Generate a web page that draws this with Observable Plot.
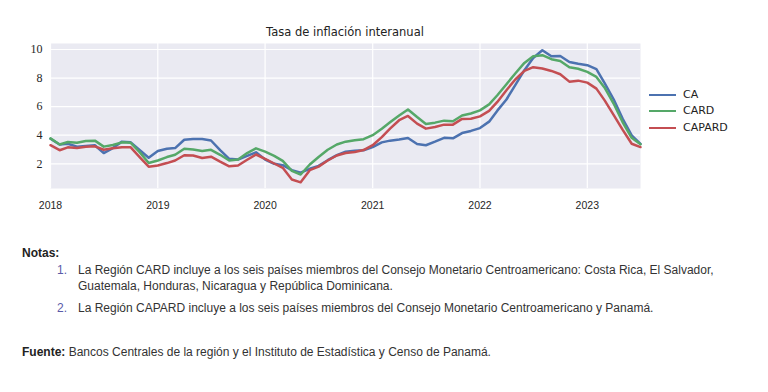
<!DOCTYPE html>
<html><head><meta charset="utf-8">
<script src="https://cdn.jsdelivr.net/npm/d3@7"></script>
<script src="https://cdn.jsdelivr.net/npm/@observablehq/plot@0.6"></script>
<style>
body{margin:0;background:#fff;}
#wrap{position:relative;width:768px;height:392px;overflow:hidden;font-family:"Liberation Sans",Arial,sans-serif;color:#333;}
#chart{position:absolute;left:0;top:0;}
.t{position:absolute;white-space:nowrap;line-height:14px;}
.title{left:50px;width:590px;top:25px;text-align:center;font-family:"DejaVu Sans",sans-serif;font-size:11.5px;color:#222;}
.leg{position:absolute;left:649px;font-family:"DejaVu Sans",sans-serif;font-size:11px;color:#222;line-height:14px;}
.leg span.sw{position:absolute;left:0;top:6px;width:27px;height:0;border-top:2.6px solid;}
.leg span.lb{position:absolute;left:34px;top:0;white-space:nowrap;}
.note{font-size:12px;color:#333;}
.num{font-size:12px;color:#5a5aa8;}
.head{font-size:12px;color:#222;font-weight:bold;}
</style>
</head><body>
<div id="wrap">
  <div id="chart"></div>
</div>
<script>
const titleText = "Tasa de inflación interanual";
const seriesNames = ["CA", "CARD", "CAPARD"];
const seriesColors = ["#4C72B0", "#55A868", "#C44E52"];
const startMonth = "2018-01-01";
const endMonth = "2023-07-01";
const yearTicks = [2018, 2019, 2020, 2021, 2022, 2023];
const yTicks = [2, 4, 6, 8, 10];

const caValues = [3.75,3.35,3.4,3.2,3.25,3.3,2.75,3.1,3.55,3.5,2.95,2.42,
  2.9,3.05,3.1,3.68,3.73,3.73,3.63,2.95,2.35,2.3,2.55,2.8,
  2.3,2.0,1.9,1.55,1.38,1.65,1.85,2.25,2.6,2.85,2.92,2.95,
  3.17,3.5,3.62,3.7,3.8,3.38,3.3,3.55,3.82,3.78,4.15,4.3,
  4.5,4.95,5.72,6.5,7.5,8.55,9.4,9.95,9.53,9.55,9.13,9.0,
  8.9,8.62,7.65,6.5,5.16,3.99,3.4];
const cardValues = [3.78,3.35,3.52,3.47,3.6,3.62,3.2,3.32,3.5,3.47,2.8,2.05,
  2.23,2.47,2.63,3.05,3.0,2.9,2.98,2.63,2.23,2.3,2.75,3.08,
  2.85,2.55,2.2,1.5,1.25,1.95,2.48,2.98,3.35,3.55,3.65,3.72,
  4.0,4.45,4.9,5.38,5.8,5.27,4.78,4.88,5.02,4.98,5.38,5.52,
  5.74,6.16,6.8,7.57,8.32,9.06,9.53,9.6,9.32,9.2,8.76,8.65,
  8.43,8.08,7.33,6.2,4.92,3.82,3.36];
const capardValues = [3.3,2.95,3.15,3.1,3.2,3.22,2.98,3.08,3.15,3.15,2.45,1.8,
  1.88,2.05,2.23,2.6,2.58,2.4,2.5,2.15,1.82,1.88,2.28,2.65,
  2.35,2.02,1.72,0.9,0.7,1.55,1.8,2.23,2.58,2.75,2.82,2.96,
  3.3,3.87,4.46,5.05,5.35,4.81,4.46,4.57,4.74,4.74,5.14,5.15,
  5.32,5.7,6.33,7.15,7.9,8.5,8.76,8.67,8.5,8.27,7.75,7.82,
  7.68,7.26,6.44,5.4,4.39,3.4,3.17];

const notesHead = "Notas:";
const noteItems = [
  ["La Región CARD incluye a los seis países miembros del Consejo Monetario Centroamericano: Costa Rica, El Salvador,",
   "Guatemala, Honduras, Nicaragua y República Dominicana."],
  ["La Región CAPARD incluye a los seis países miembros del Consejo Monetario Centroamericano y Panamá."]
];
const sourceHead = "Fuente:";
const sourceText = " Bancos Centrales de la región y el Instituto de Estadística y Censo de Panamá.";

// build table
const months = d3.utcMonth.range(new Date(startMonth), d3.utcMonth.offset(new Date(endMonth), 1));
const allValues = [caValues, cardValues, capardValues];
const rows = [];
seriesNames.forEach((s, k) => allValues[k].forEach((v, i) => rows.push({date: months[i], value: v, series: s})));
const xTickDates = yearTicks.map(y => new Date(Date.UTC(y, 0, 1)));

const chart = Plot.plot({
  width: 768,
  height: 222,
  marginLeft: 50,
  marginRight: 128,
  marginTop: 43,
  marginBottom: 34,
  style: {background: "transparent", color: "#262626"},
  x: {type: "utc", domain: [months[0], months[months.length - 1]]},
  y: {domain: [0.27, 10.42]},
  color: {domain: seriesNames, range: seriesColors},
  marks: [
    Plot.frame({fill: "#EAEAF2", stroke: null}),
    Plot.gridX({ticks: xTickDates, stroke: "#ffffff", strokeOpacity: 1, strokeWidth: 1.2}),
    Plot.gridY({ticks: yTicks, stroke: "#ffffff", strokeOpacity: 1, strokeWidth: 1.2}),
    Plot.lineY(rows, {x: "date", y: "value", z: "series", stroke: "series", strokeWidth: 2.5, strokeLinejoin: "round"}),
    Plot.axisX({ticks: xTickDates, tickFormat: d3.utcFormat("%Y"), tickSize: 0, tickPadding: 13, label: null, fontSize: 10.5}),
    Plot.axisY({ticks: yTicks, tickSize: 0, tickPadding: 8, label: null, fontSize: 12})
  ]
});
document.getElementById("chart").appendChild(chart);
chart.querySelectorAll("text").forEach(t => {
  const s = t.textContent.trim();
  if (/^\d{1,2}$/.test(s)) {
    t.style.fontFamily = '"Liberation Serif", "DejaVu Serif", serif';
    t.style.fontSize = "12px";
  } else if (/^\d{4}$/.test(s)) {
    t.style.fontFamily = '"Liberation Sans", sans-serif';
  }
});

const wrap = document.getElementById("wrap");
function addDiv(cls, text, left, top) {
  const d = document.createElement("div");
  d.className = "t " + cls;
  d.textContent = text;
  if (left != null) d.style.left = left + "px";
  d.style.top = top + "px";
  wrap.appendChild(d);
  return d;
}
addDiv("title", titleText, null, 25);

// legend
const legTops = [88, 104, 121];
seriesNames.forEach((s, k) => {
  const d = document.createElement("div");
  d.className = "leg";
  d.style.top = legTops[k] + "px";
  const sw = document.createElement("span");
  sw.className = "sw"; sw.style.borderColor = seriesColors[k];
  const lb = document.createElement("span");
  lb.className = "lb"; lb.textContent = s;
  d.appendChild(sw); d.appendChild(lb);
  wrap.appendChild(d);
});

// notes
addDiv("head", notesHead, 22, 246);
addDiv("num", "1.", 57, 263);
addDiv("note", noteItems[0][0], 78, 263);
addDiv("note", noteItems[0][1], 78, 279);
addDiv("num", "2.", 57, 301);
addDiv("note", noteItems[1][0], 78, 301);
const src = addDiv("note", "", 22, 345);
const b = document.createElement("span");
b.style.fontWeight = "bold"; b.style.color = "#222";
b.textContent = sourceHead;
src.appendChild(b);
src.appendChild(document.createTextNode(sourceText));
</script>
</body></html>
